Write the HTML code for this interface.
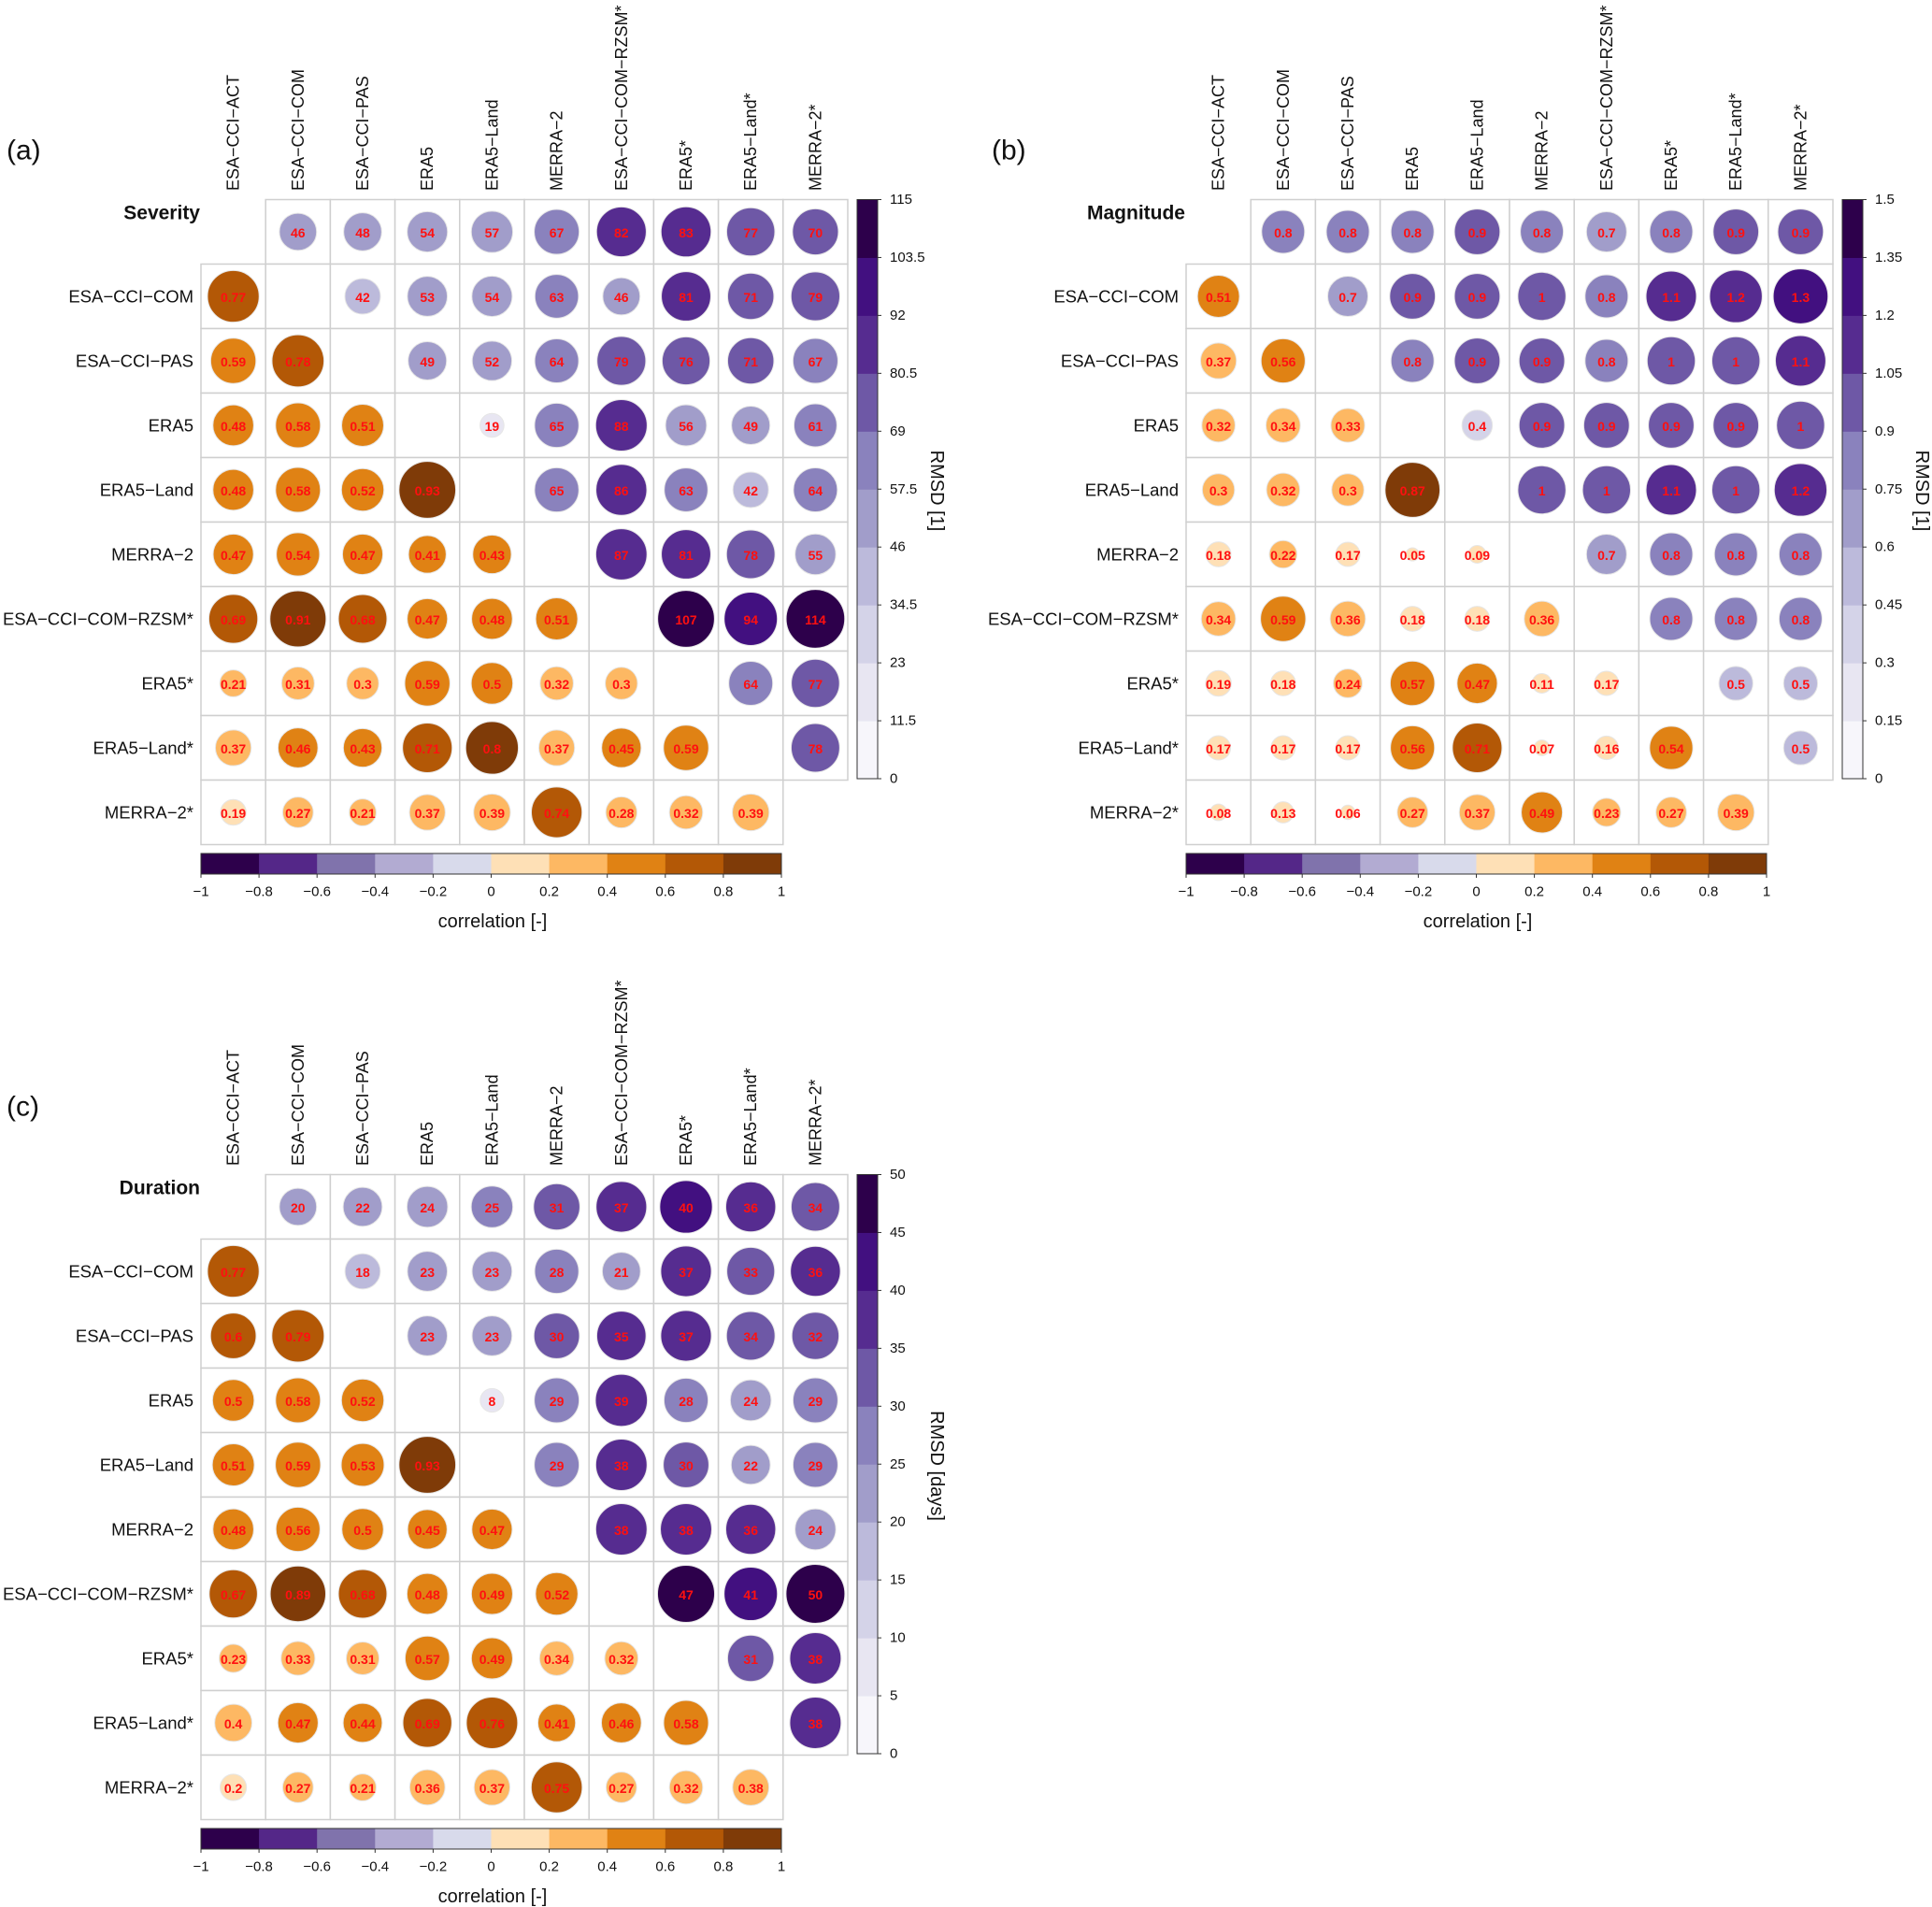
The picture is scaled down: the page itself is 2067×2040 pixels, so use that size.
<!DOCTYPE html>
<html><head><meta charset="utf-8">
<style>
html,body{margin:0;padding:0;background:#fff;}
svg{display:block;font-family:"Liberation Sans",Arial,sans-serif;}
</style></head>
<body>
<svg id="fig" width="2067" height="2040" viewBox="0 0 2067 2040" xmlns="http://www.w3.org/2000/svg"></svg>
<script>
const names = ["ESA\u2212CCI\u2212ACT","ESA\u2212CCI\u2212COM","ESA\u2212CCI\u2212PAS","ERA5","ERA5\u2212Land","MERRA\u22122","ESA\u2212CCI\u2212COM\u2212RZSM*","ERA5*","ERA5\u2212Land*","MERRA\u22122*"];
const corrTicks = [-1,-0.8,-0.6,-0.4,-0.2,0,0.2,0.4,0.6,0.8,1];
const corrColors = ["#2d004b","#542788","#8073ac","#b2abd2","#d8daeb","#fee0b6","#fdb863","#e08214","#b35806","#7f3b08"];
const rmsdColors = ["#f7f6fb","#e8e6f2","#d4d3e8","#bcbadb","#a19dca","#8a82bd","#6e58a6","#562c90","#421080","#2d004b"];

const sevData = [
 [null,46,48,54,57,67,82,83,77,70],
 [0.77,null,42,53,54,63,46,81,71,79],
 [0.59,0.78,null,49,52,64,79,76,71,67],
 [0.48,0.58,0.51,null,19,65,88,56,49,61],
 [0.48,0.58,0.52,0.93,null,65,86,63,42,64],
 [0.47,0.54,0.47,0.41,0.43,null,87,81,78,55],
 [0.69,0.91,0.68,0.47,0.48,0.51,null,107,94,114],
 [0.21,0.31,0.3,0.59,0.5,0.32,0.3,null,64,77],
 [0.37,0.46,0.43,0.71,0.8,0.37,0.45,0.59,null,78],
 [0.19,0.27,0.21,0.37,0.39,0.74,0.28,0.32,0.39,null]
];
const sevTicks = ["0","11.5","23","34.5","46","57.5","69","80.5","92","103.5","115"];

const magData = [
 [null,0.8,0.8,0.8,0.9,0.8,0.7,0.8,0.9,0.9],
 [0.51,null,0.7,0.9,0.9,1,0.8,1.1,1.2,1.3],
 [0.37,0.56,null,0.8,0.9,0.9,0.8,1,1,1.1],
 [0.32,0.34,0.33,null,0.4,0.9,0.9,0.9,0.9,1],
 [0.3,0.32,0.3,0.87,null,1,1,1.1,1,1.2],
 [0.18,0.22,0.17,0.05,0.09,null,0.7,0.8,0.8,0.8],
 [0.34,0.59,0.36,0.18,0.18,0.36,null,0.8,0.8,0.8],
 [0.19,0.18,0.24,0.57,0.47,0.11,0.17,null,0.5,0.5],
 [0.17,0.17,0.17,0.56,0.71,0.07,0.16,0.54,null,0.5],
 [0.08,0.13,0.06,0.27,0.37,0.49,0.23,0.27,0.39,null]
];
const magTicks = ["0","0.15","0.3","0.45","0.6","0.75","0.9","1.05","1.2","1.35","1.5"];

const durData = [
 [null,20,22,24,25,31,37,40,36,34],
 [0.77,null,18,23,23,28,21,37,33,36],
 [0.6,0.79,null,23,23,30,35,37,34,32],
 [0.5,0.58,0.52,null,8,29,39,28,24,29],
 [0.51,0.59,0.53,0.93,null,29,38,30,22,29],
 [0.48,0.56,0.5,0.45,0.47,null,38,38,36,24],
 [0.67,0.89,0.68,0.48,0.49,0.52,null,47,41,50],
 [0.23,0.33,0.31,0.57,0.49,0.34,0.32,null,31,38],
 [0.4,0.47,0.44,0.69,0.76,0.41,0.46,0.58,null,38],
 [0.2,0.27,0.21,0.36,0.37,0.75,0.27,0.32,0.38,null]
];
const durTicks = ["0","5","10","15","20","25","30","35","40","45","50"];

const svg = document.getElementById('fig');
const NS = "http://www.w3.org/2000/svg";
function mk(tag, attrs, parent){
  const e = document.createElementNS(NS, tag);
  for (const k in attrs) e.setAttribute(k, attrs[k]);
  (parent||svg).appendChild(e);
  return e;
}
function fmt(v){ return String(v); }
function tickFmt(v){ const s = String(Math.round(v*10)/10); return s.replace('-', '\u2212'); }

function panel(ox, oy, letter, title, data, rmax, ticks, unit, lblY){
  const g = mk('g', {transform:`translate(${ox},${oy})`});
  
  
  const X0 = 215, Y0 = 213.5, CW = 69.2, CH = 69, R = 31.5;
  const cx = j => X0 + CW*(j+0.5);
  const cy = i => Y0 + CH*(i+0.5);

  const pl = mk('text', {x:7, y:lblY, 'font-size':30, 'dominant-baseline':'central', fill:'#111'}, g);
  pl.textContent = '(' + letter + ')';
  
  

  const tt = mk('text', {x:X0-1, y:228, 'font-size':21, 'font-weight':'bold', 'text-anchor':'end', 'dominant-baseline':'central', fill:'#111'}, g);
  tt.textContent = title;
  
  

  for (let j=0;j<10;j++){
    const t = mk('text', {transform:`translate(${cx(j)},204) rotate(-90)`, 'font-size':18, 'dominant-baseline':'central', fill:'#111'}, g);
    t.textContent = names[j];
    
    
  }
  for (let i=1;i<10;i++){
    const t = mk('text', {x:207, y:cy(i), 'font-size':18.5, 'text-anchor':'end', 'dominant-baseline':'central', fill:'#111'}, g);
    t.textContent = names[i];
    
    
  }
  for (let i=0;i<10;i++){
    for (let j=0;j<10;j++){
      if ((i===0&&j===0)||(i===9&&j===9)) continue;
      const r = mk('rect', {x:X0+CW*j, y:Y0+CH*i, width:CW, height:CH, fill:'#fff', stroke:'#cfcfcf', 'stroke-width':1.5}, g);
      
      
    }
  }
  for (let i=0;i<10;i++){
    for (let j=0;j<10;j++){
      const v = data[i][j];
      if (v===null) continue;
      let rad, col;
      if (j<i){
        rad = R*Math.sqrt(Math.abs(v));
        col = corrColors[Math.min(9, Math.floor((v+1)/0.2))];
      } else {
        rad = R*Math.sqrt(v/rmax);
        col = rmsdColors[Math.min(9, Math.floor(v/rmax*10))];
      }
      const c = mk('circle', {cx:cx(j), cy:cy(i), r:rad, fill:col, stroke:'#e6e6e6', 'stroke-width':1}, g);
      
      
      const t = mk('text', {x:cx(j), y:cy(i)+1, 'font-size':14, 'font-weight':'bold', 'text-anchor':'middle', 'dominant-baseline':'central', fill:'#ff1010'}, g);
      t.textContent = fmt(v);
      
      
    }
  }
  const bx=917, bw=22, by0=213.5, by1=833;
  for (let k=0;k<10;k++){
    const h=(by1-by0)/10;
    const r = mk('rect', {x:bx, y:by1-h*(k+1), width:bw, height:h+0.5, fill:rmsdColors[k]}, g);
    
    
  }
  mk('rect', {x:bx, y:by0, width:bw, height:by1-by0, fill:'none', stroke:'#333', 'stroke-width':1}, g);
  for (let k=0;k<ticks.length;k++){
    const y = by1-(by1-by0)*k/10;
    mk('line', {x1:bx+bw, x2:bx+bw+4, y1:y, y2:y, stroke:'#333'}, g);
    const t = mk('text', {x:bx+bw+13, y:y, 'font-size':15, 'dominant-baseline':'central', fill:'#111'}, g);
    t.textContent = ticks[k];
    
    
  }
  const ut = mk('text', {transform:`translate(1002,525) rotate(90)`, 'font-size':20, 'text-anchor':'middle', 'dominant-baseline':'central', fill:'#111'}, g);
  ut.textContent = 'RMSD [' + unit + ']';
  
  

  const cx0=215, cx1=836, cyt=913, chh=22;
  for (let k=0;k<10;k++){
    const w=(cx1-cx0)/10;
    const r = mk('rect', {x:cx0+w*k, y:cyt, width:w+0.5, height:chh, fill:corrColors[k]}, g);
    
    
  }
  mk('rect', {x:cx0, y:cyt, width:cx1-cx0, height:chh, fill:'none', stroke:'#333', 'stroke-width':1}, g);
  for (let k=0;k<corrTicks.length;k++){
    const x = cx0+(cx1-cx0)*(corrTicks[k]+1)/2;
    mk('line', {x1:x, x2:x, y1:cyt+chh, y2:cyt+chh+4, stroke:'#333'}, g);
    const t = mk('text', {x:x, y:954, 'font-size':15, 'text-anchor':'middle', 'dominant-baseline':'central', fill:'#111'}, g);
    t.textContent = tickFmt(corrTicks[k]);
    
    
  }
  const ct = mk('text', {x:527, y:986, 'font-size':20, 'text-anchor':'middle', 'dominant-baseline':'central', fill:'#111'}, g);
  ct.textContent = 'correlation [-]';
  
  
}
panel(0, 0, 'a', 'Severity', sevData, 115, sevTicks, '1', 161);
panel(1054, 0, 'b', 'Magnitude', magData, 1.5, magTicks, '1', 161);
panel(0, 1043, 'c', 'Duration', durData, 50, durTicks, 'days', 141);
</script>
</body></html>
